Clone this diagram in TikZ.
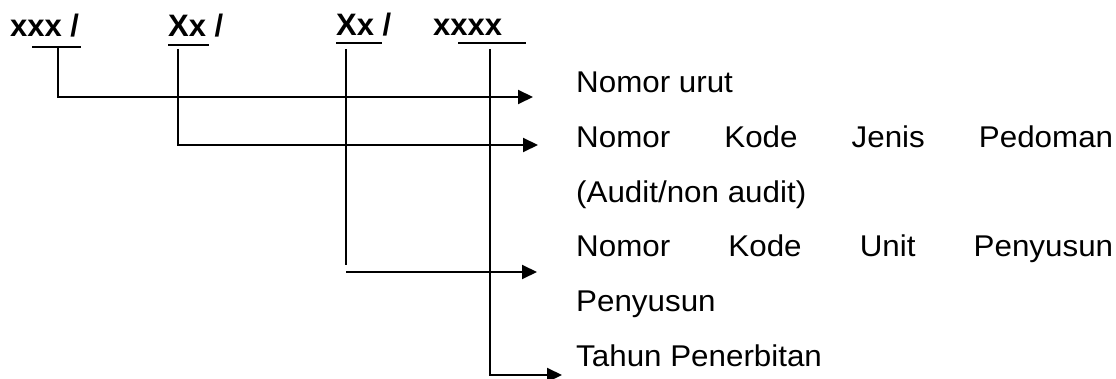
\documentclass[tikz,border=0pt]{standalone}
\usepackage{fontspec}
\setmainfont{Liberation Sans}
\newfontfamily\stretchedfont[FakeStretch=1.045]{Liberation Sans}
\usetikzlibrary{arrows.meta}

\begin{document}
\begin{tikzpicture}[x=1pt, y=-1pt,
  code/.style={anchor=base west, inner sep=0pt, font=\fontsize{31}{31}\selectfont\bfseries},
  desc/.style={anchor=base west, inner sep=0pt, font=\fontsize{30}{30}\stretchedfont},
  bar/.style={line width=2pt},
  link/.style={line width=2pt, -{Triangle[length=15pt,width=14pt]}}]

  \useasboundingbox (0, 0) rectangle (1116, 379);

  % kode nomor
  \node[code] (urut)   at (10, 37)  {xxx /};
  \node[code] (jenis)  at (168, 37) {Xx /};
  \node[code] (unit)   at (336, 36) {Xx /};
  \node[code] (tahun)  at (433, 36) {xxxx};

  \draw[bar] (32, 47) -- (81, 47);
  \draw[bar] (168, 45) -- (209, 45);
  \draw[bar] (336, 43) -- (382, 43);
  \draw[bar] (458, 43) -- (526, 43);

  % keterangan
  \node[desc] (ketUrut)  at (576, 93)    {Nomor urut};
  \node[desc] (ketJenis) at (576, 147.6) {\hbox to 537pt{Nomor\hfill Kode\hfill Jenis\hfill Pedoman}};
  \node[desc] (ketAudit) at (576, 202.2) {(Audit/non audit)};
  \node[desc] (ketUnit)  at (576, 256.8) {\hbox to 537pt{Nomor\hfill Kode\hfill Unit\hfill Penyusun}};
  \node[desc] (ketPeny)  at (576, 311.4) {Penyusun};
  \node[desc] (ketTahun) at (576, 366)   {Tahun Penerbitan};

  % garis penunjuk
  \coordinate (a1) at (58, 47);
  \coordinate (b1) at (533, 97);
  \coordinate (a2) at (178, 49);
  \coordinate (b2) at (538, 145);
  \coordinate (a3) at (346, 49);
  \coordinate (k3) at (346, 265);
  \coordinate (c3) at (346, 272);
  \coordinate (b3) at (537, 272);
  \coordinate (a4) at (490, 49);
  \coordinate (b4) at (562, 375);

  \draw[link] (a1) |- (b1);
  \draw[link] (a2) |- (b2);
  \draw[bar]  (a3) -- (k3);
  \draw[link] (c3) -- (b3);
  \draw[link] (a4) |- (b4);
\end{tikzpicture}
\end{document}
